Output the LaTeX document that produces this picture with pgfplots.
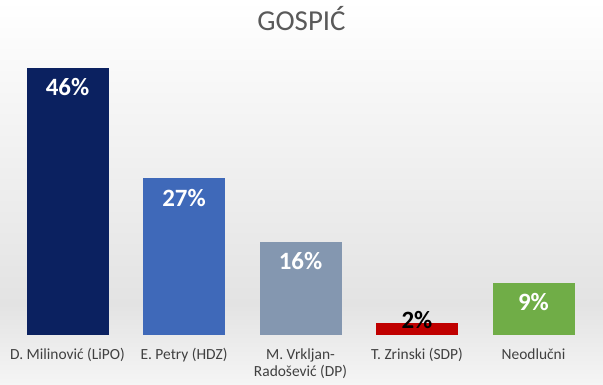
\documentclass[border=0pt]{standalone}
\usepackage{pgfplots}
\pgfplotsset{compat=1.18}
\usepackage{fontspec}
\setmainfont{Carlito}
\definecolor{c1}{HTML}{0B2160}
\definecolor{c2}{HTML}{3F69B9}
\definecolor{c3}{HTML}{8497B0}
\definecolor{c4}{HTML}{C00000}
\definecolor{c5}{HTML}{70AD47}
\begin{document}
\begin{tikzpicture}[x=1bp,y=1bp]
\shade[top color=white, bottom color=black!11] (0,80) rectangle (603,384);
\shade[top color=black!11, bottom color=black!4] (0,0) rectangle (603,80);
\path[use as bounding box] (0,0) rectangle (603,384);
\node[font=\fontsize{29}{33}\selectfont, text=black!65] at (301.5,365) {GOSPIĆ};
\begin{axis}[at={(9.25bp,49bp)}, anchor=south west, scale only axis,
  width=582.5bp, height=290bp, xmin=-0.5, xmax=4.5, ymin=0, ymax=50,
  clip=false, axis line style={draw=none}, major tick length=0pt,
  /pgf/number format/assume math mode=true,
  ytick=\empty, xtick={0,1,2,3,4},
  xticklabels={D. Milinović (LiPO), E. Petry (HDZ), {M. Vrkljan-\\Radošević (DP)}, T. Zrinski (SDP), Neodlučni},
  xticklabel style={align=center, font=\fontsize{15.5}{17}\selectfont, text=black!75, yshift=-10bp},
  ybar, bar width=82bp, bar shift=0pt,
  nodes near coords={\pgfmathprintnumber[assume math mode=true]{\pgfplotspointmeta}\%},
  every node near coord/.append style={font=\bfseries\fontsize{25}{30}\selectfont, text=white, anchor=north, yshift=-7bp}]
\addplot[fill=c1, draw=none] coordinates {(0,46)};
\addplot[fill=c2, draw=none] coordinates {(1,27)};
\addplot[fill=c3, draw=none] coordinates {(2,16)};
\addplot[fill=c4, draw=none, every node near coord/.append style={text=black, anchor=south, yshift=-1.5bp}] coordinates {(3,2)};
\addplot[fill=c5, draw=none] coordinates {(4,9)};
\end{axis}
\end{tikzpicture}
\end{document}
